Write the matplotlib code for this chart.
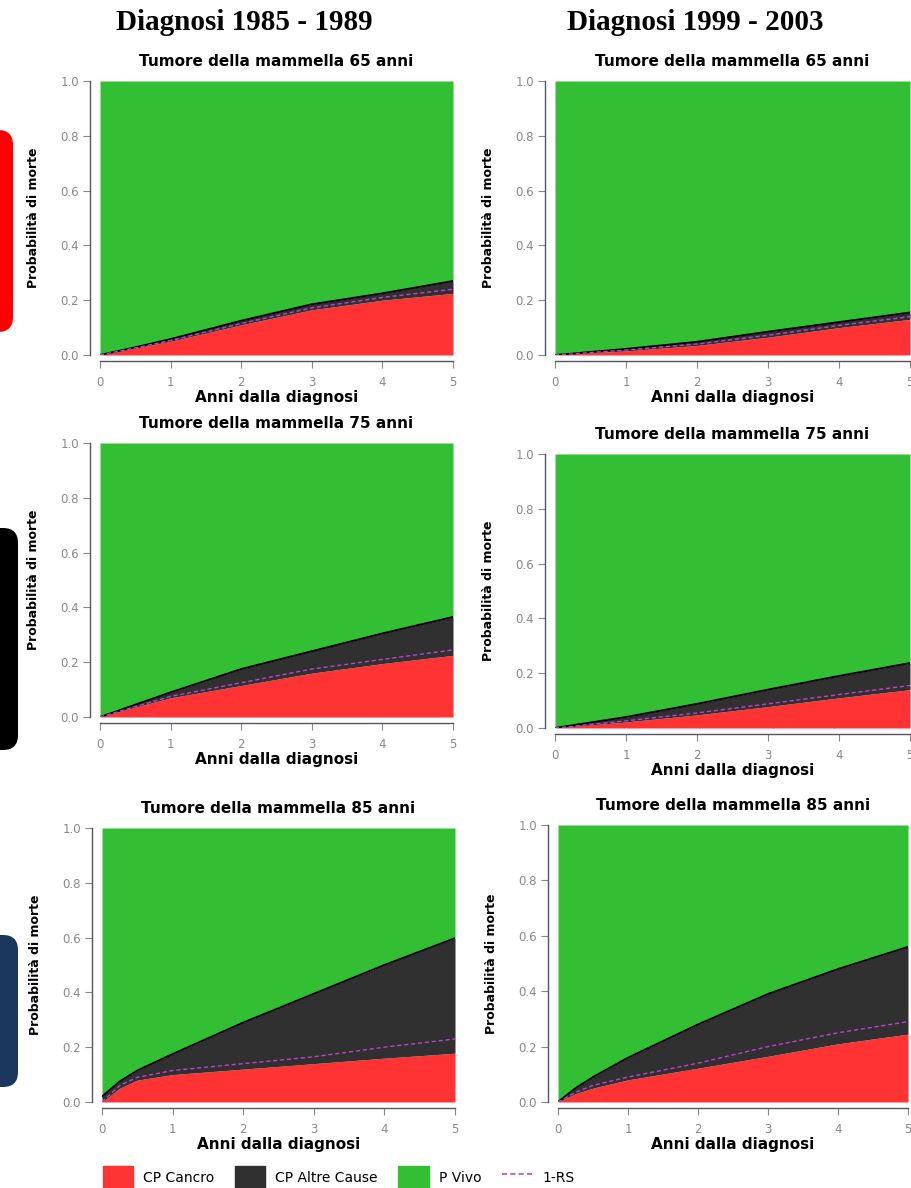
"""Cumulative probabilities of death after breast cancer diagnosis (6 panels)."""

import matplotlib

matplotlib.use("Agg")
import matplotlib.pyplot as plt
from matplotlib.lines import Line2D
from matplotlib.patches import FancyBboxPatch, Patch

# years since diagnosis (common grid for all panels)
years = [0, 0.25, 0.5, 1, 2, 3, 4, 5]

# cumulative values: cancer (red top), cancer+other (dark top), 1-RS
tl_cancer = [0, 0.012, 0.025, 0.05, 0.11, 0.165, 0.20, 0.225]
tl_total = [0, 0.014, 0.028, 0.058, 0.125, 0.185, 0.225, 0.27]
tl_rs = [0, 0.013, 0.026, 0.053, 0.115, 0.172, 0.21, 0.24]

tr_cancer = [0, 0.004, 0.008, 0.015, 0.035, 0.065, 0.10, 0.13]
tr_total = [0, 0.005, 0.011, 0.022, 0.048, 0.085, 0.12, 0.155]
tr_rs = [0, 0.004, 0.009, 0.018, 0.04, 0.072, 0.108, 0.14]

ml_cancer = [0, 0.018, 0.036, 0.07, 0.115, 0.16, 0.195, 0.225]
ml_total = [0, 0.022, 0.045, 0.09, 0.175, 0.24, 0.305, 0.365]
ml_rs = [0, 0.019, 0.038, 0.075, 0.125, 0.175, 0.21, 0.245]

mr_cancer = [0, 0.005, 0.011, 0.022, 0.048, 0.078, 0.11, 0.14]
mr_total = [0, 0.01, 0.02, 0.04, 0.088, 0.14, 0.19, 0.237]
mr_rs = [0, 0.006, 0.013, 0.026, 0.055, 0.088, 0.122, 0.155]

bl_cancer = [0, 0.05, 0.08, 0.10, 0.12, 0.14, 0.16, 0.178]
bl_total = [0.02, 0.075, 0.115, 0.175, 0.29, 0.395, 0.50, 0.598]
bl_rs = [0, 0.06, 0.09, 0.115, 0.14, 0.165, 0.20, 0.23]

br_cancer = [0, 0.03, 0.05, 0.08, 0.122, 0.165, 0.21, 0.245]
br_total = [0, 0.05, 0.09, 0.16, 0.28, 0.39, 0.48, 0.56]
br_rs = [0, 0.035, 0.06, 0.09, 0.14, 0.20, 0.25, 0.29]

col_titles = ["Diagnosi 1985 - 1989", "Diagnosi 1999 - 2003"]
ages = ["65", "75", "85"]
y_ticks = [0.0, 0.2, 0.4, 0.6, 0.8, 1.0]
x_ticks = [0, 1, 2, 3, 4, 5]
legend_labels = ["CP Cancro", "CP Altre Cause", "P Vivo", "1-RS"]

RED = "#ff3333"
DARK = "#303030"
GREEN = "#33bf33"
MAGENTA = "#c040d0"

W, H = 911, 1188


def px_box(x0, x1, y_top, y_bot):
    return [x0 / W, 1 - y_bot / H, (x1 - x0) / W, (y_bot - y_top) / H]


def draw_panel(ax, cancer, total, rs, age):
    ax.fill_between(years, 0, cancer, color=RED, lw=0)
    ax.fill_between(years, cancer, total, color=DARK, lw=0)
    ax.fill_between(years, total, 1, color=GREEN, lw=0)
    ax.plot(years, total, color="black", lw=1.4)
    ax.plot(years, rs, color=MAGENTA, lw=1.0, ls=(0, (3, 2)))
    ax.set_xlim(0, 5)
    ax.set_ylim(0, 1)
    ax.set_xticks(x_ticks)
    ax.set_yticks(y_ticks)
    ax.set_yticklabels([f"{v:.1f}" for v in y_ticks])
    ax.spines["top"].set_visible(False)
    ax.spines["right"].set_visible(False)
    ax.spines["left"].set_position(("outward", 7))
    ax.spines["bottom"].set_position(("outward", 4))
    for s in ("left", "bottom"):
        ax.spines[s].set_color("#555566")
        ax.spines[s].set_linewidth(1.0)
    ax.tick_params(colors="#888888", labelsize=8.5, length=5, width=0.8, pad=3)
    ax.tick_params(axis="x", pad=6)
    ax.set_title(f"Tumore della mammella {age} anni", fontsize=11,
                 fontweight="bold", pad=11)
    ax.set_xlabel("Anni dalla diagnosi", fontsize=11, fontweight="bold", labelpad=1)
    ax.set_ylabel("Probabilità di morte", fontsize=9, fontweight="bold", labelpad=15)


fig = plt.figure(figsize=(W / 100, H / 100), dpi=100)

panels = [
    (px_box(100, 453, 81, 355), tl_cancer, tl_total, tl_rs, ages[0]),
    (px_box(555, 910, 81, 355), tr_cancer, tr_total, tr_rs, ages[0]),
    (px_box(100, 453, 443, 717), ml_cancer, ml_total, ml_rs, ages[1]),
    (px_box(555, 910, 454, 728), mr_cancer, mr_total, mr_rs, ages[1]),
    (px_box(102, 455, 828, 1102), bl_cancer, bl_total, bl_rs, ages[2]),
    (px_box(558, 908, 825, 1102), br_cancer, br_total, br_rs, ages[2]),
]
for rect, c, t, r, age in panels:
    ax = fig.add_axes(rect)
    draw_panel(ax, c, t, r, age)

fig.text(244 / W, 1 - 22 / H, col_titles[0], family="Liberation Serif",
         fontweight="bold", fontsize=21, ha="center", va="center")
fig.text(695 / W, 1 - 22 / H, col_titles[1], family="Liberation Serif",
         fontweight="bold", fontsize=21, ha="center", va="center")

# coloured tabs on the left edge (slide decoration), in inches
for (y_top, y_bot, right, col) in [(130, 332, 13, "#ff0000"),
                                   (528, 750, 18, "#000000"),
                                   (935, 1087, 18, "#1b365d")]:
    box = FancyBboxPatch((-0.4, (H - y_bot) / 100), 0.4 + right / 100,
                         (y_bot - y_top) / 100,
                         boxstyle="round,pad=0,rounding_size=0.15",
                         transform=fig.dpi_scale_trans, color=col, lw=0)
    fig.add_artist(box)

handles = [
    Patch(color=RED),
    Patch(color=DARK),
    Patch(color=GREEN),
    Line2D([], [], color=MAGENTA, lw=1.2, ls=(0, (3, 2))),
]
fig.legend(handles, legend_labels, loc="lower left",
           bbox_to_anchor=(90 / W, -0.012), ncol=4, frameon=False,
           fontsize=10, handlelength=2.2, handleheight=2.2,
           columnspacing=1.5, handletextpad=0.7)

fig.savefig("out.png", dpi=100)
plt.close(fig)
